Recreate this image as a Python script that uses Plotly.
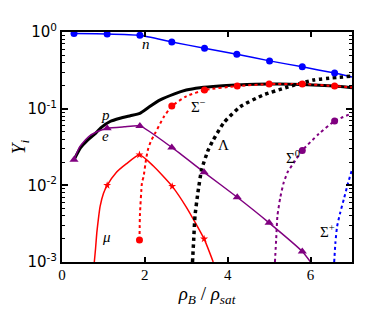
import plotly.graph_objects as go
import numpy as np

# particle fractions Y_i vs rho_B / rho_sat
n_x = [0.29, 1.09, 1.88, 2.65, 3.44, 4.22, 5.01, 5.80, 6.58, 7.0]
n_y = [0.953, 0.945, 0.906, 0.742, 0.614, 0.513, 0.42, 0.351, 0.291, 0.258]
n_mx = [0.29, 1.09, 1.88, 2.65, 3.44, 4.22, 5.01, 5.80, 6.58]
n_my = [0.953, 0.945, 0.906, 0.742, 0.614, 0.513, 0.42, 0.351, 0.291]

p_x = [0.29, 0.45, 0.6, 0.78, 0.95, 1.16, 1.4, 1.65, 1.88, 2.1, 2.37, 2.7, 3.0, 3.33, 3.8, 4.22, 5.0, 5.8, 6.58, 7.0]
p_y = [0.0216, 0.031, 0.038, 0.046, 0.057, 0.068, 0.075, 0.081, 0.087, 0.105, 0.13, 0.155, 0.175, 0.188, 0.198, 0.203, 0.209, 0.207, 0.197, 0.187]

e_x = [0.29, 0.43, 0.64, 0.84, 1.09, 1.5, 1.88, 2.65, 3.43, 4.23, 5.0, 5.8, 6.0]
e_y = [0.0216, 0.032, 0.043, 0.05, 0.0556, 0.058, 0.0596, 0.0312, 0.0148, 0.00699, 0.00324, 0.00137, 0.001]
e_mx = [0.29, 1.09, 1.88, 2.65, 3.43, 4.23, 5.0, 5.8]
e_my = [0.0216, 0.0556, 0.0596, 0.0312, 0.0148, 0.00699, 0.00324, 0.00137]

mu_x = [0.78, 0.81, 0.84, 0.88, 0.92, 1.0, 1.09, 1.3, 1.55, 1.87, 2.2, 2.66, 3.0, 3.43, 3.65]
mu_y = [0.001, 0.0015, 0.0024, 0.0037, 0.0053, 0.0078, 0.01, 0.0145, 0.019, 0.025, 0.018, 0.0097, 0.0052, 0.002, 0.001]
mu_mx = [1.09, 1.87, 2.66, 3.43]
mu_my = [0.01, 0.025, 0.0097, 0.002]

sm_x = [1.87, 1.875, 1.88, 1.93, 1.97, 2.03, 2.08, 2.15, 2.25, 2.45, 2.65, 3.0, 3.44, 4.23, 5.0, 5.8, 6.58, 7.0]
sm_y = [0.00193, 0.0028, 0.004, 0.0108, 0.0131, 0.022, 0.03, 0.038, 0.048, 0.077, 0.108, 0.145, 0.175, 0.197, 0.209, 0.21, 0.197, 0.19]
sm_mx = [1.87, 2.65, 3.44, 4.23, 5.0, 5.8, 6.58]
sm_my = [0.00193, 0.108, 0.175, 0.197, 0.209, 0.21, 0.197]

lam_x = [3.15, 3.18, 3.21, 3.28, 3.37, 3.53, 3.65, 3.9, 4.3, 4.86, 5.43, 6.07, 7.0]
lam_y = [0.001, 0.002, 0.004, 0.008, 0.016, 0.029, 0.039, 0.065, 0.106, 0.151, 0.19, 0.236, 0.266]

s0_x = [5.14, 5.17, 5.2, 5.27, 5.35, 5.45, 5.59, 5.8, 6.2, 6.58, 7.0]
s0_y = [0.001, 0.002, 0.004, 0.007, 0.0108, 0.015, 0.0195, 0.0285, 0.047, 0.069, 0.087]
s0_mx = [5.8, 6.58]
s0_my = [0.0285, 0.069]

sp_x = [6.57, 6.6, 6.64, 6.72, 6.8, 6.9, 7.0]
sp_y = [0.001, 0.0018, 0.0029, 0.0045, 0.0065, 0.0105, 0.016]

BLUE, RED, PURPLE, BLACK = "#0000ff", "#ff0000", "#800080", "#000000"
SERIF = "'Liberation Serif', 'DejaVu Serif', serif"

fig = go.Figure()


def curve(x, y, color, width, dash="solid"):
    fig.add_trace(go.Scatter(x=x, y=y, mode="lines", showlegend=False,
                             line=dict(color=color, width=width, dash=dash,
                                       shape="spline", smoothing=0.5)))


def marks(x, y, color, symbol, size):
    fig.add_trace(go.Scatter(x=x, y=y, mode="markers", showlegend=False, cliponaxis=False,
                             marker=dict(color=color, symbol=symbol, size=size,
                                         line=dict(width=0))))


curve(p_x, p_y, BLACK, 3)
curve(n_x, n_y, BLUE, 1.5)
curve(e_x, e_y, PURPLE, 1.5)
curve(mu_x, mu_y, RED, 1.5)
curve(sm_x, sm_y, RED, 2, "dot")
curve(lam_x, lam_y, BLACK, 3.5, "dot")
curve(s0_x, s0_y, PURPLE, 2, "dot")
curve(sp_x, sp_y, BLUE, 2, "dot")

marks(n_mx, n_my, BLUE, "circle", 7)
marks(e_mx, e_my, PURPLE, "triangle-up", 8)
marks(mu_mx, mu_my, RED, "star", 6)
marks(sm_mx, sm_my, RED, "circle", 7)
marks(s0_mx, s0_my, PURPLE, "circle", 7)

labels = [
    ("<i>n</i>", 2.03, 0.70),
    ("<i>p</i>", 1.04, 0.083),
    ("<i>e</i>", 1.06, 0.044),
    ("Σ<sup>−</sup>", 3.3, 0.108),
    ("Λ", 3.89, 0.034),
    ("Σ<sup>0</sup>", 5.57, 0.0235),
    ("Σ<sup>+</sup>", 6.41, 0.0025),
    ("<i>μ</i>", 1.08, 0.0021),
]
for txt, lx, ly in labels:
    fig.add_annotation(x=lx, y=np.log10(ly), text=txt, showarrow=False,
                       font=dict(family=SERIF, size=15, color="black"))

decades = [1e-3, 1e-2, 1e-1, 1]
minor_vals = [m * d for d in decades[:-1] for m in range(2, 10)]

fig.update_xaxes(range=[0, 7], tickvals=[0, 2, 4, 6], ticks="inside", ticklen=5,
                 tickwidth=1.5, tickcolor="black", showline=True, linewidth=2,
                 linecolor="black", mirror="allticks", showgrid=False, zeroline=False,
                 automargin=False, ticklabelstandoff=-2,
                 tickfont=dict(family=SERIF, size=15, color="black"),
                 title=dict(text="<i>ρ</i><sub><i>B</i></sub> / <i>ρ</i><sub><i>sat</i></sub>",
                            font=dict(family=SERIF, size=19, color="black"), standoff=5))
fig.update_yaxes(type="log", range=[-3, 0], tickmode="array", tickvals=decades,
                 ticktext=["10<sup>-3</sup>", "10<sup>-2</sup>", "10<sup>-1</sup>", "10<sup>0</sup>"],
                 ticks="inside", ticklen=6, tickwidth=1.5, tickcolor="black",
                 minor=dict(tickmode="array", tickvals=minor_vals, ticks="inside",
                            ticklen=3, tickcolor="black", tickwidth=1, showgrid=False),
                 showline=True, linewidth=2, linecolor="black", mirror="allticks",
                 showgrid=False, zeroline=False, automargin=False,
                 tickfont=dict(family="DejaVu Sans", size=15, color="black"),
                 title=dict(text="<i>Y</i><sub><i>i</i></sub>",
                            font=dict(family=SERIF, size=19, color="black"), standoff=6))

# the page body adds an 8px offset, so the figure is 8px smaller and the
# top/left margins are reduced to match
fig.update_layout(width=374, height=315, margin=dict(l=54, r=30, t=24, b=61),
                  plot_bgcolor="white", paper_bgcolor="white")

fig.write_html("out.html")
